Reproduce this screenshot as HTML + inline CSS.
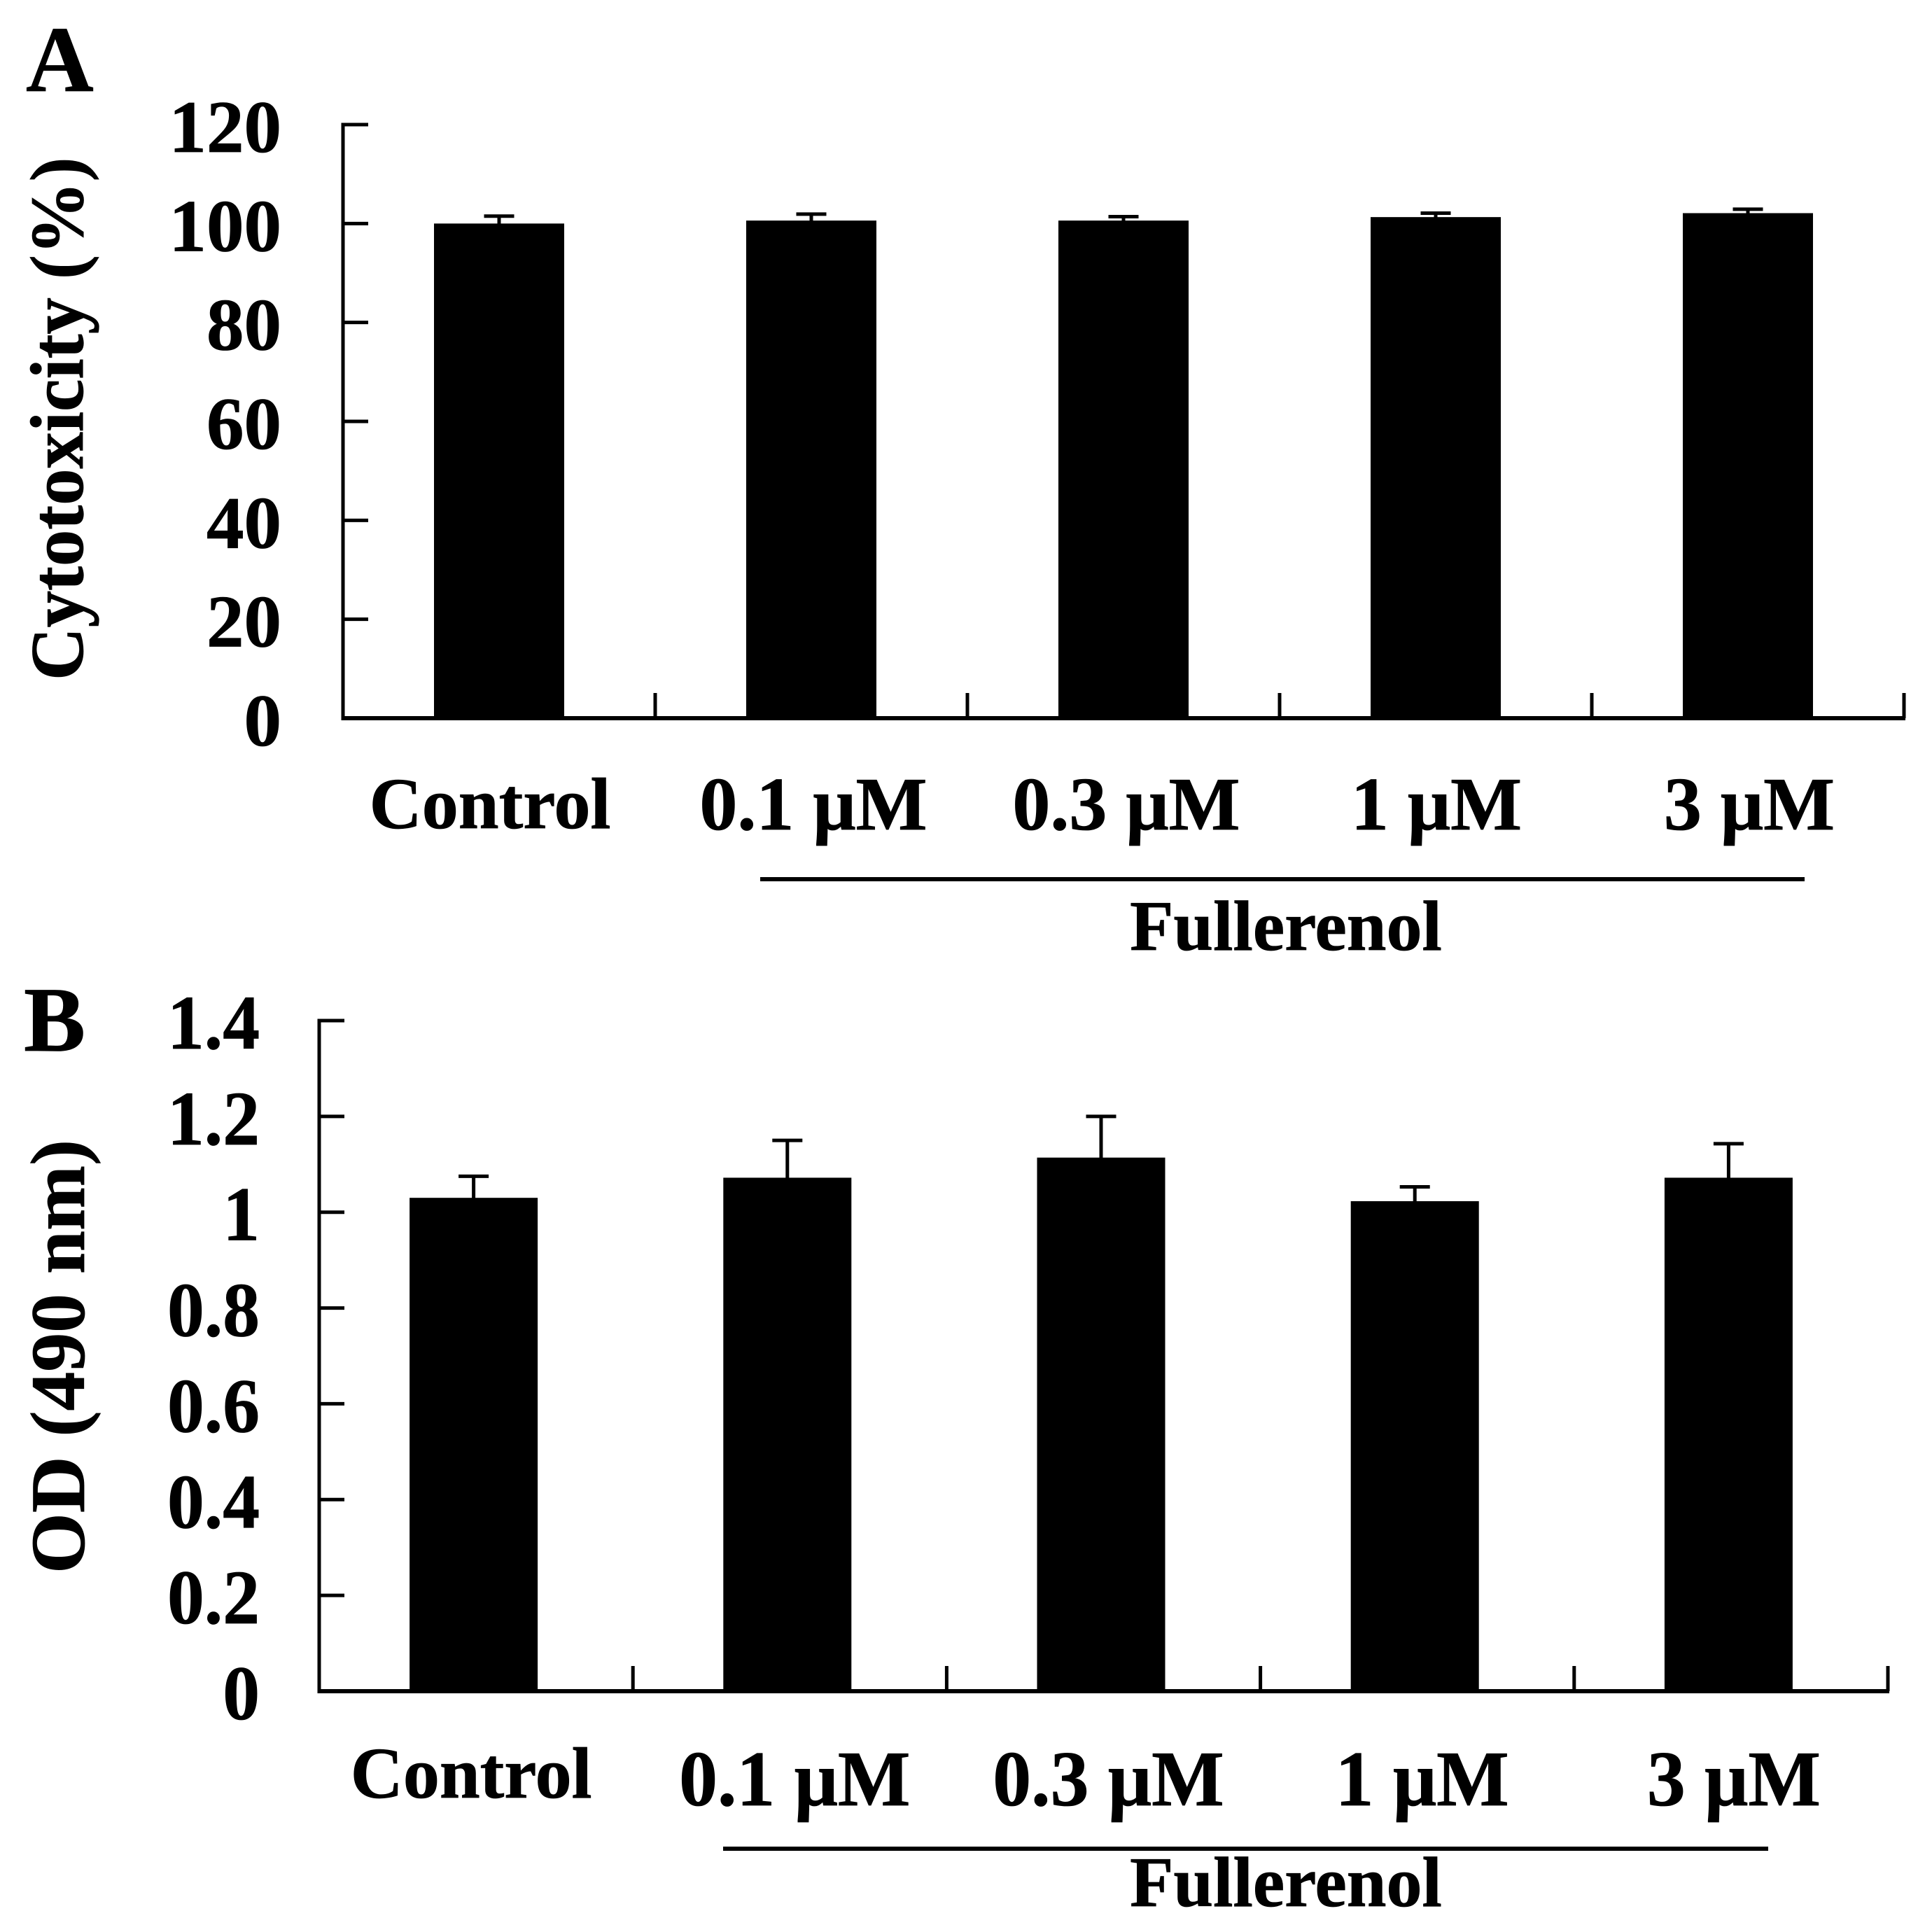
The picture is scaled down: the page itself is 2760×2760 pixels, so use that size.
<!DOCTYPE html>
<html lang="en">
<head>
<meta charset="utf-8">
<title>Fullerenol cytotoxicity and OD bar charts</title>
<style>
  html, body { margin: 0; padding: 0; background: #fff; }
  svg { display: block; }
  text { font-family: "Liberation Serif", serif; font-weight: bold; fill: #000; stroke: #000; stroke-width: 0.8px; }
</style>
</head>
<body>
<svg id="figure" xmlns="http://www.w3.org/2000/svg" width="2760" height="2760" viewBox="0 0 2760 2760">
  <rect x="0" y="0" width="2760" height="2760" fill="#fff"/>
  <text x="37" y="130" font-size="134">A</text>
  <text x="34" y="1501" font-size="132">B</text>
  <text transform="translate(118,972) rotate(-90) scale(0.97,1)" font-size="108">Cytotoxicity (%)</text>
  <text transform="translate(120,2248) rotate(-90) scale(1.015,1)" font-size="110">OD (490 nm)</text>
  <line x1="1086" x2="2578" y1="1256" y2="1256" stroke="#000" stroke-width="6"/>
  <text x="1837" y="1357" font-size="102" text-anchor="middle">Fullerenol</text>
  <line x1="1033" x2="2526" y1="2641" y2="2641" stroke="#000" stroke-width="6"/>
  <text x="1837" y="2723" font-size="102" text-anchor="middle">Fullerenol</text>
</svg>
<script>
const categories = ["Control", "0.1 μM", "0.3 μM", "1 μM", "3 μM"];

const valuesA = [100, 100.6, 100.6, 101.3, 102.1];
const errorsA = [1.5, 1.3, 0.8, 0.8, 0.8];
const yTicksA = [0, 20, 40, 60, 80, 100, 120];
const yTickLabelsA = ["0", "20", "40", "60", "80", "100", "120"];

const valuesB = [1.03, 1.072, 1.114, 1.023, 1.072];
const errorsB = [0.045, 0.078, 0.086, 0.03, 0.071];
const yTicksB = [0, 0.2, 0.4, 0.6, 0.8, 1, 1.2, 1.4];
const yTickLabelsB = ["0", "0.2", "0.4", "0.6", "0.8", "1", "1.2", "1.4"];

const SVG_NS = "http://www.w3.org/2000/svg";
const figure = document.getElementById("figure");

function makeLine(x1, y1, x2, y2, width) {
  const el = document.createElementNS(SVG_NS, "line");
  el.setAttribute("x1", x1);
  el.setAttribute("y1", y1);
  el.setAttribute("x2", x2);
  el.setAttribute("y2", y2);
  el.setAttribute("stroke", "#000");
  el.setAttribute("stroke-width", width);
  figure.appendChild(el);
  return el;
}

function makeText(content, x, y, size, scaleX, anchor) {
  const el = document.createElementNS(SVG_NS, "text");
  el.setAttribute("transform", "translate(" + x + "," + y + ") scale(" + scaleX + ",1)");
  el.setAttribute("font-size", size);
  el.setAttribute("text-anchor", anchor);
  el.textContent = content;
  figure.appendChild(el);
  return el;
}

function drawPanel(key, values, errors, yTicks, yTickLabels, cfg) {
  const yScale = function (v) {
    return cfg.base - (v / cfg.max) * (cfg.base - cfg.top);
  };
  const band = (cfg.right - cfg.left) / categories.length;
  const xCenter = function (i) {
    return cfg.left + band * (i + 0.5);
  };

  const yAxis = makeLine(cfg.left, cfg.top - 2.5, cfg.left, cfg.base + 3, 5);
  
  

  const xAxis = makeLine(cfg.left - 2.5, cfg.base, cfg.right + 2, cfg.base, 6);
  
  

  yTicks.forEach(function (t, i) {
    const y = yScale(t);
    if (t > 0) {
      const tick = makeLine(cfg.left, y, cfg.left + 36, y, 5);
      
      
    }
    const label = makeText(yTickLabels[i], cfg.yLabelRight, y + cfg.yLabelDrop, cfg.yLabelSize, cfg.yLabelScale, "end");
    
    
  });

  for (let i = 1; i <= categories.length; i++) {
    const x = cfg.left + band * i;
    const tick = makeLine(x, cfg.base, x, cfg.base - 36, 5);
    
    
  }

  categories.forEach(function (name, i) {
    const cx = xCenter(i) + cfg.barShift;
    const top = yScale(values[i]);
    const errTop = yScale(values[i] + errors[i]);

    const stem = makeLine(cx, top + 2, cx, errTop, 5);
    
    

    const cap = makeLine(cx - 21.5, errTop, cx + 21.5, errTop, 5);
    
    

    const bar = document.createElementNS(SVG_NS, "rect");
    bar.setAttribute("x", cx - cfg.barWidth / 2);
    bar.setAttribute("y", top);
    bar.setAttribute("width", cfg.barWidth);
    bar.setAttribute("height", cfg.base - top);
    bar.setAttribute("fill", "#000");
    
    
    figure.appendChild(bar);

    const isControl = i === 0;
    const label = makeText(
      name,
      xCenter(i) + cfg.labelNudge[i],
      isControl ? cfg.controlBaseline : cfg.doseBaseline,
      isControl ? 104 : cfg.doseSize,
      isControl ? 1 : cfg.doseScale,
      "middle"
    );
    
    
  });
}

drawPanel("a", valuesA, errorsA, yTicksA, yTickLabelsA, {
  left: 490, right: 2720, top: 178, base: 1026, max: 120,
  barWidth: 186, barShift: 0,
  yLabelRight: 402, yLabelSize: 106, yLabelScale: 1.01, yLabelDrop: 39,
  labelNudge: [-13, 3, 4, 1, 2],
  controlBaseline: 1183, doseBaseline: 1185, doseSize: 108, doseScale: 1.0
});

drawPanel("b", valuesB, errorsB, yTicksB, yTickLabelsB, {
  left: 456, right: 2697, top: 1458, base: 2416, max: 1.4,
  barWidth: 183, barShift: -3.5,
  yLabelRight: 371, yLabelSize: 110, yLabelScale: 0.96, yLabelDrop: 40,
  labelNudge: [-7, 7, 7, 7, 4],
  controlBaseline: 2568, doseBaseline: 2579, doseSize: 112, doseScale: 0.98
});
</script>
</body>
</html>
